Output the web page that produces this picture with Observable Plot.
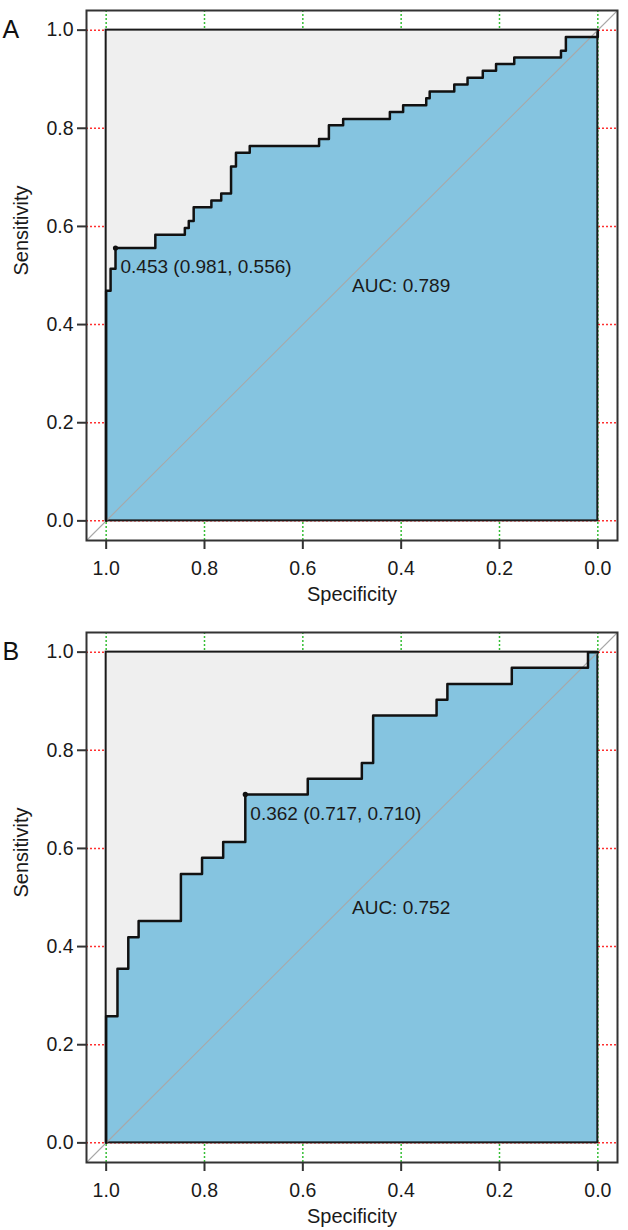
<!DOCTYPE html>
<html>
<head>
<meta charset="utf-8">
<script src="https://cdn.jsdelivr.net/npm/d3@7"></script>
<script src="https://cdn.jsdelivr.net/npm/@observablehq/plot@0.6"></script>
<style>
  html, body { margin: 0; padding: 0; background: #ffffff; }
  body { width: 628px; font-family: "Liberation Sans", Arial, Helvetica, sans-serif; }
  #panelA, #panelB { display: block; }
  #panelB { margin-top: 14px; }
  svg { display: block; }
</style>
</head>
<body>
<div id="panelA"></div>
<div id="panelB"></div>
<script>
// ---- data ----
const axisTicks = [0, 0.2, 0.4, 0.6, 0.8, 1.0];
const axisTickLabels = ["0.0", "0.2", "0.4", "0.6", "0.8", "1.0"];
const rocSpace = [0, 1];            // ROC space bounds (specificity / sensitivity)
const framePad = 0.04;              // extra room drawn around the ROC space

const panelLabels = ["A", "B"];
const xLabel = "Specificity";
const yLabel = "Sensitivity";

// Panel A: ROC curve corner points
const specA = [1, 1, 0.991, 0.991, 0.981, 0.981, 0.900, 0.900, 0.840, 0.840, 0.832, 0.832,
  0.822, 0.822, 0.786, 0.786, 0.766, 0.766, 0.746, 0.746, 0.736, 0.736, 0.708, 0.708,
  0.567, 0.567, 0.547, 0.547, 0.518, 0.518, 0.423, 0.423, 0.396, 0.396, 0.349, 0.349,
  0.342, 0.342, 0.292, 0.292, 0.265, 0.265, 0.234, 0.234, 0.207, 0.207, 0.170, 0.170,
  0.075, 0.075, 0.065, 0.065, 0, 0];
const sensA = [0, 0.469, 0.469, 0.514, 0.514, 0.556, 0.556, 0.583, 0.583, 0.597, 0.597, 0.611,
  0.611, 0.639, 0.639, 0.653, 0.653, 0.667, 0.667, 0.722, 0.722, 0.750, 0.750, 0.764,
  0.764, 0.778, 0.778, 0.806, 0.806, 0.819, 0.819, 0.833, 0.833, 0.847, 0.847, 0.861,
  0.861, 0.875, 0.875, 0.889, 0.889, 0.903, 0.903, 0.917, 0.917, 0.931, 0.931, 0.944,
  0.944, 0.958, 0.958, 0.986, 0.986, 1];
const thresholdA = {spec: 0.981, sens: 0.556, label: "0.453 (0.981, 0.556)"};
const aucA = "AUC: 0.789";

// Panel B: ROC curve corner points
const specB = [1, 1, 0.977, 0.977, 0.955, 0.955, 0.934, 0.934, 0.848, 0.848, 0.805, 0.805,
  0.762, 0.762, 0.717, 0.717, 0.590, 0.590, 0.480, 0.480, 0.457, 0.457, 0.328, 0.328,
  0.306, 0.306, 0.175, 0.175, 0.020, 0.020, 0];
const sensB = [0, 0.258, 0.258, 0.355, 0.355, 0.419, 0.419, 0.452, 0.452, 0.548, 0.548, 0.581,
  0.581, 0.613, 0.613, 0.710, 0.710, 0.742, 0.742, 0.774, 0.774, 0.871, 0.871, 0.903,
  0.903, 0.935, 0.935, 0.968, 0.968, 1, 1];
const thresholdB = {spec: 0.717, sens: 0.710, label: "0.362 (0.717, 0.710)"};
const aucB = "AUC: 0.752";

// AUC text anchor (left-aligned) in data coordinates
const aucPos = {spec: 0.5, sens: 0.478};

// ---- drawing ----
const FONT = "Liberation Sans, Arial, Helvetica, sans-serif";
const lo = rocSpace[0] - framePad, hi = rocSpace[1] + framePad;
const square = [{x1: rocSpace[1], x2: rocSpace[0], y1: rocSpace[0], y2: rocSpace[1]}];

function panel(letter, spec, sens, thr, aucText) {
  const pts = spec.map((s, i) => ({spec: s, sens: sens[i]}));
  const area = [{spec: rocSpace[1], sens: rocSpace[0]}, ...pts, {spec: rocSpace[0], sens: rocSpace[0]}];
  return Plot.plot({
    width: 628,
    height: 608,
    marginLeft: 86,
    marginRight: 11,
    marginTop: 10,
    marginBottom: 68,
    style: {fontFamily: FONT, fontSize: "19px", color: "#1a1a1a", background: "#ffffff", overflow: "visible"},
    x: {domain: [hi, lo], label: null},
    y: {domain: [lo, hi], label: null},
    marks: [
      // dotted grid (only visible between the outer frame and the ROC space)
      Plot.ruleY(axisTicks, {stroke: "#ff3030", strokeWidth: 1.5, strokeDasharray: "2,2"}),
      Plot.ruleX(axisTicks, {stroke: "#35bf35", strokeWidth: 1.5, strokeDasharray: "2,2"}),
      // max AUC square (light grey)
      Plot.rect(square, {x1: "x1", x2: "x2", y1: "y1", y2: "y2", fill: "#efefef"}),
      // AUC polygon
      Plot.area(area, {x1: "spec", y1: 0, y2: "sens", fill: "#85c4e0", curve: "linear"}),
      // border of ROC space
      Plot.rect(square, {x1: "x1", x2: "x2", y1: "y1", y2: "y2", fill: "none", stroke: "#1a1a1a", strokeWidth: 2}),
      // diagonal reference line across the whole frame
      Plot.link([{x1: hi, y1: lo, x2: lo, y2: hi}], {x1: "x1", y1: "y1", x2: "x2", y2: "y2", stroke: "#a8a8a8", strokeWidth: 1.1}),
      // ROC curve
      Plot.line(pts, {x: "spec", y: "sens", stroke: "#111", strokeWidth: 2.5, curve: "linear"}),
      // threshold point & label
      Plot.dot([thr], {x: "spec", y: "sens", r: 2.6, fill: "#111", stroke: null}),
      Plot.text([thr], {x: "spec", y: "sens", text: "label", textAnchor: "start", dx: 5, dy: 19, fontSize: 19, fill: "#1a1a1a"}),
      // AUC label
      Plot.text([aucPos], {x: "spec", y: "sens", text: () => aucText, textAnchor: "start", fontSize: 19, fill: "#1a1a1a"}),
      // outer frame
      Plot.frame({stroke: "#333", strokeWidth: 2}),
      // axes
      Plot.axisY(axisTicks, {anchor: "left", tickSize: 9, tickPadding: 4, strokeWidth: 2, stroke: "#333",
        tickFormat: (d) => axisTickLabels[axisTicks.indexOf(d)], fontSize: 19.5, label: null}),
      Plot.axisX(axisTicks, {anchor: "bottom", tickSize: 9, tickPadding: 12, strokeWidth: 2, stroke: "#333",
        tickFormat: (d) => axisTickLabels[axisTicks.indexOf(d)], fontSize: 19.5, label: null}),
      // axis titles
      Plot.text([xLabel], {frameAnchor: "bottom", dy: 60, fontSize: 20, fill: "#1a1a1a"}),
      Plot.text([yLabel], {frameAnchor: "left", rotate: -90, dx: -65, fontSize: 20, fill: "#1a1a1a"}),
      // panel letter
      Plot.text([letter], {frameAnchor: "top-left", textAnchor: "start", dx: -84, dy: 10, fontSize: 25, fill: "#111"})
    ]
  });
}

document.getElementById("panelA").append(panel(panelLabels[0], specA, sensA, thresholdA, aucA));
document.getElementById("panelB").append(panel(panelLabels[1], specB, sensB, thresholdB, aucB));
</script>
</body>
</html>
